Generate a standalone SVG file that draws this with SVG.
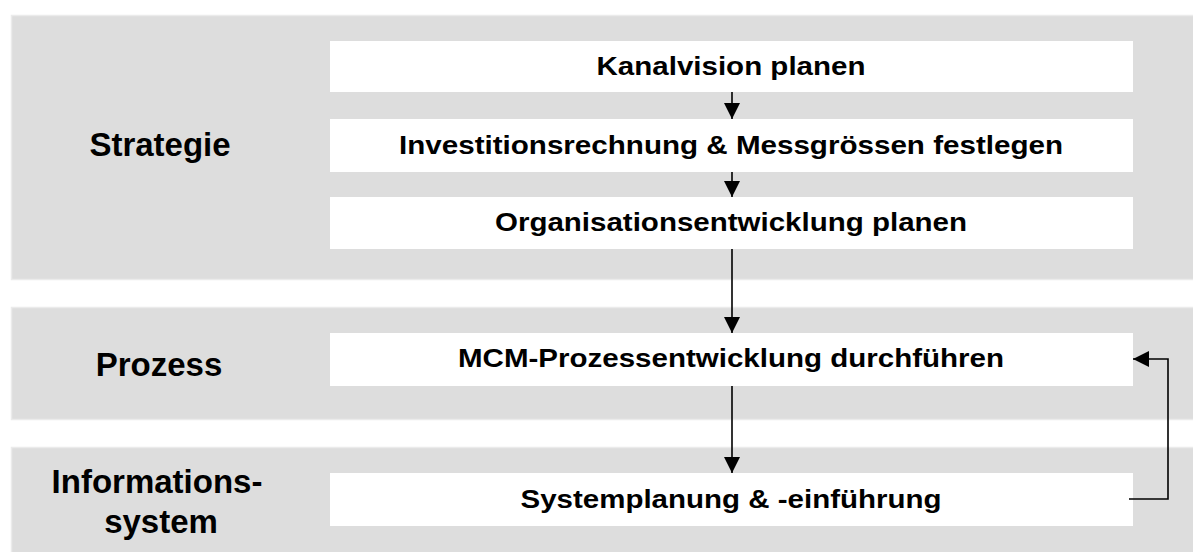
<svg xmlns="http://www.w3.org/2000/svg" width="1193" height="552" viewBox="0 0 1193 552">
  <style>
    .band { fill: #dddddd; stroke: #ebebeb; stroke-width: 1.5; }
    .box { fill: #ffffff; }
    .lbl { font-family: "Liberation Sans", Arial, sans-serif; font-weight: bold; font-size: 33px; fill: #000; text-anchor: middle; }
    .step { font-family: "Liberation Sans", Arial, sans-serif; font-weight: bold; font-size: 26px; fill: #000; text-anchor: middle; }
    .conn { fill: none; stroke: #000; stroke-width: 1.6; marker-end: url(#arrow); }
  </style>
  <defs>
    <marker id="arrow" viewBox="0 0 16 16" refX="16" refY="8" markerWidth="16" markerHeight="16" markerUnits="userSpaceOnUse" orient="auto">
      <path d="M0,0 L16,8 L0,16 Z" fill="#000"/>
    </marker>
  </defs>

  <rect width="1193" height="552" fill="#ffffff"/>

  <!-- layer bands -->
  <g id="band-strategie">
    <rect class="band" x="11.5" y="15.5" width="1190" height="264"/>
    <text class="lbl" x="160" y="156">Strategie</text>
  </g>
  <g id="band-prozess">
    <rect class="band" x="11.5" y="307.5" width="1190" height="112"/>
    <text class="lbl" x="159" y="376">Prozess</text>
  </g>
  <g id="band-informationssystem">
    <rect class="band" x="11.5" y="447.5" width="1190" height="120"/>
    <text class="lbl" x="157" y="493">Informations-</text>
    <text class="lbl" x="161" y="533">system</text>
  </g>

  <!-- activity steps -->
  <g id="step-kanalvision">
    <rect class="box" x="330" y="41" width="803" height="51"/>
    <text class="step" x="731" y="75" textLength="269" lengthAdjust="spacingAndGlyphs">Kanalvision planen</text>
  </g>
  <g id="step-investitionsrechnung">
    <rect class="box" x="330" y="119" width="803" height="53"/>
    <text class="step" x="731" y="154" textLength="664" lengthAdjust="spacingAndGlyphs">Investitionsrechnung &amp; Messgrössen festlegen</text>
  </g>
  <g id="step-organisationsentwicklung">
    <rect class="box" x="330" y="197" width="803" height="52"/>
    <text class="step" x="731" y="231" textLength="472" lengthAdjust="spacingAndGlyphs">Organisationsentwicklung planen</text>
  </g>
  <g id="step-prozessentwicklung">
    <rect class="box" x="330" y="333" width="803" height="53"/>
    <text class="step" x="731" y="367" textLength="546" lengthAdjust="spacingAndGlyphs">MCM-Prozessentwicklung durchführen</text>
  </g>
  <g id="step-systemplanung">
    <rect class="box" x="330" y="473" width="803" height="53"/>
    <text class="step" x="731" y="508" textLength="421" lengthAdjust="spacingAndGlyphs">Systemplanung &amp; -einführung</text>
  </g>

  <!-- connectors -->
  <g id="connectors">
    <line class="conn" x1="732" y1="92" x2="732" y2="119"/>
    <line class="conn" x1="732" y1="172" x2="732" y2="197"/>
    <line class="conn" x1="732" y1="249" x2="732" y2="333"/>
    <line class="conn" x1="732" y1="386" x2="732" y2="473"/>
    <polyline class="conn" points="1129,499 1168,499 1168,359 1133,359"/>
  </g>
</svg>
